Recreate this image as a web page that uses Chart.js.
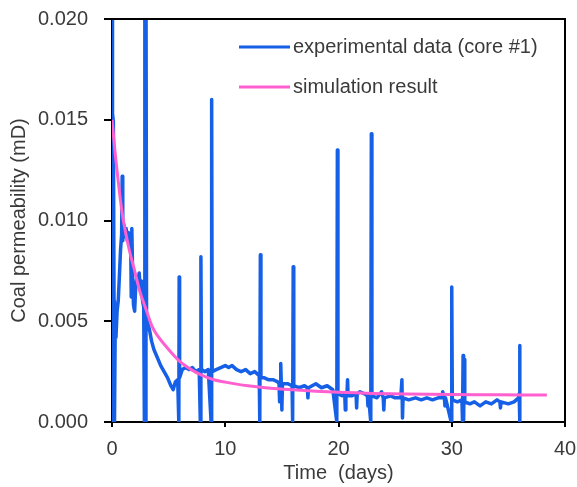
<!DOCTYPE html>
<html>
<head>
<meta charset="utf-8">
<script src="https://cdn.jsdelivr.net/npm/chart.js@4.4.1/dist/chart.umd.min.js"></script>
<style>
    html, body { margin: 0; padding: 0; background: #fff; }
    #wrap { width: 577px; height: 487px; }
</style>
</head>
<body>
<div id="wrap"><canvas id="permChart"></canvas></div>
<script>
// ==================== Data ====================

// experimental data (core #1) - time in days, permeability in mD
// (rows of expTime and expPerm line up one to one)
const expTime = [
    0.00, 0.03, 0.06, 0.12, 0.18, 0.22, 0.28, 0.35, 0.45, 0.55, 0.65, 0.75, 0.85, 0.90, 0.95,
    1.05, 1.15, 1.25, 1.35, 1.45, 1.55, 1.65, 1.70, 1.75, 1.85, 1.90, 2.00, 2.10, 2.20, 2.30,
    2.40, 2.50, 2.60, 2.70, 2.80, 2.86, 2.90, 2.95, 3.00, 3.05, 3.10, 3.30, 3.50, 3.70, 4.00,
    4.30, 4.60, 4.90, 5.20, 5.40, 5.60, 5.80, 5.90, 5.93, 5.97, 6.20, 6.50, 6.80, 7.10, 7.40,
    7.70, 7.80, 7.85, 7.90, 8.20, 8.50, 8.75, 8.80, 8.85, 9.20, 9.60, 10.0, 10.3, 10.6, 11.0,
    11.4, 11.8, 12.2, 12.6, 13.0, 13.05, 13.1, 13.15, 13.4, 13.8, 14.2, 14.6, 14.75, 14.8, 14.85,
    14.9, 14.95, 15.0, 15.05, 15.5, 15.9, 15.95, 16.0, 16.05, 16.5, 17.0, 17.25, 17.3, 17.35, 18.0,
    18.5, 19.0, 19.5, 19.85, 19.9, 19.95, 20.3, 20.55, 20.6, 20.65, 20.75, 20.8, 20.85, 21.2, 21.55,
    21.6, 21.65, 21.9, 22.3, 22.55, 22.6, 22.65, 22.85, 22.9, 22.95, 23.4, 23.8, 23.95, 24.0, 24.05,
    24.6, 25.0, 25.5, 25.6, 25.65, 25.7, 26.2, 26.8, 27.3, 27.8, 28.3, 28.8, 29.15, 29.2, 29.35,
    29.4, 29.45, 29.95, 30.0, 30.05, 30.5, 30.9, 30.95, 31.0, 31.05, 31.1, 31.15, 31.6, 32.0, 32.5,
    33.0, 33.5, 34.0, 34.25, 34.3, 34.35, 35.0, 35.5, 35.9, 35.95, 36.0, 36.02
];
const expPerm = [
    0.0000, 0.0210, 0.0153, 0.0149, 0.0060, 0.0000, 0.0045, 0.0042, 0.0055, 0.0060, 0.0072, 0.0085, 0.0093, 0.0122, 0.0090,
    0.0098, 0.0092, 0.0096, 0.0090, 0.0094, 0.0088, 0.0091, 0.0062, 0.0096, 0.0065, 0.0058, 0.0055, 0.0068, 0.0072, 0.0070,
    0.0074, 0.0066, 0.0070, 0.0060, 0.0057, 0.0000, 0.0230, 0.0000, 0.0230, 0.0052, 0.0050, 0.0046, 0.0040, 0.0036, 0.0032,
    0.0028, 0.0025, 0.0022, 0.0018, 0.0016, 0.0020, 0.0021, 0.0000, 0.0072, 0.0022, 0.0026, 0.0027, 0.0026, 0.0027, 0.0025,
    0.0026, 0.0000, 0.0082, 0.0026, 0.0025, 0.0026, 0.0000, 0.0160, 0.0025, 0.0026, 0.0027, 0.0028, 0.0027, 0.0028, 0.0026,
    0.0025, 0.0026, 0.0024, 0.0025, 0.0023, 0.0000, 0.0083, 0.0022, 0.0022, 0.0021, 0.0021, 0.0020, 0.0019, 0.0010, 0.0019,
    0.0029, 0.0019, 0.0006, 0.0019, 0.0019, 0.0018, 0.0000, 0.0077, 0.0018, 0.0017, 0.0018, 0.0017, 0.0012, 0.0017, 0.0019,
    0.0017, 0.0018, 0.0016, 0.0000, 0.0135, 0.0014, 0.0013, 0.0014, 0.0006, 0.0014, 0.0014, 0.0021, 0.0013, 0.0013, 0.0014,
    0.0007, 0.0014, 0.0015, 0.0014, 0.0013, 0.0008, 0.0013, 0.0000, 0.0143, 0.0013, 0.0012, 0.0015, 0.0012, 0.0006, 0.0012,
    0.0013, 0.0012, 0.0012, 0.0021, 0.0002, 0.0012, 0.0011, 0.0012, 0.0011, 0.0012, 0.0011, 0.0012, 0.0012, 0.0015, 0.0012,
    0.0008, 0.0012, 0.0000, 0.0067, 0.0011, 0.0010, 0.0011, 0.0000, 0.0033, 0.0001, 0.0031, 0.0010, 0.0009, 0.0010, 0.0008,
    0.0010, 0.0009, 0.0011, 0.0010, 0.0007, 0.0010, 0.0009, 0.0010, 0.0012, 0.0014, 0.0038, 0.0000
];

// simulation result
const simTime = [0, 0.25, 0.5, 0.75, 1.0, 1.5, 2.0, 2.5, 3.0, 3.5, 4.0, 5.0, 6.0, 7.0, 8.0, 9.0,
    10, 11, 12, 14, 16, 18, 20, 23, 26, 30, 34, 38.4];
const simPerm = [0.0150, 0.0135, 0.0122, 0.0110, 0.0100, 0.0086, 0.0075, 0.0064, 0.0056, 0.0048,
    0.0043, 0.0036, 0.0030, 0.0026, 0.0023, 0.0021, 0.00198, 0.00188, 0.00180, 0.00168, 0.00160,
    0.00153, 0.00148, 0.00142, 0.00139, 0.00136, 0.00135, 0.00134];

// axis ranges / ticks
const xRange = [0, 40];
const xStep = 10;
const yRange = [0, 0.020];
const yStep = 0.005;

const seriesNames = ['experimental data (core #1)', 'simulation result'];
const seriesColors = ['#1560e6', '#ff5fcf'];

// ==================== Helpers ====================

function toPoints(xs, ys) {
    return xs.map((x, i) => ({ x: x, y: ys[i] }));
}

const TEXT_COLOR = '#3a3a3a';
const FONT_FAMILY = '"Liberation Sans", Arial, sans-serif';
const FONT_SIZE = 20;

// draws the top/right frame lines and the legend inside the plot
const framePlugin = {
    id: 'frameAndLegend',
    afterDraw(chart) {
        const ctx = chart.ctx;
        const area = chart.chartArea;
        ctx.save();
        ctx.strokeStyle = '#000';
        ctx.lineWidth = 2;
        ctx.beginPath();
        ctx.moveTo(area.left, area.top);
        ctx.lineTo(area.right, area.top);
        ctx.lineTo(area.right, area.bottom);
        ctx.stroke();

        // legend
        ctx.font = FONT_SIZE + 'px ' + FONT_FAMILY;
        ctx.textBaseline = 'middle';
        ctx.textAlign = 'left';
        const rows = [47, 87];
        seriesNames.forEach((name, i) => {
            ctx.strokeStyle = seriesColors[i];
            ctx.lineWidth = 3;
            ctx.beginPath();
            ctx.moveTo(239, rows[i]);
            ctx.lineTo(290, rows[i]);
            ctx.stroke();
            ctx.fillStyle = TEXT_COLOR;
            ctx.fillText(name, 293, rows[i]);
        });
        ctx.restore();
    }
};

// ==================== Chart ====================

document.addEventListener('DOMContentLoaded', function () {
    const canvas = document.getElementById('permChart');

    new Chart(canvas, {
        type: 'scatter',
        data: {
            datasets: [
                {
                    label: seriesNames[0],
                    data: toPoints(expTime, expPerm),
                    showLine: true,
                    borderColor: seriesColors[0],
                    borderWidth: 3.5,
                    borderJoinStyle: 'round',
                    pointRadius: 0,
                    order: 2
                },
                {
                    label: seriesNames[1],
                    data: toPoints(simTime, simPerm),
                    showLine: true,
                    borderColor: seriesColors[1],
                    borderWidth: 3,
                    tension: 0.3,
                    pointRadius: 0,
                    order: 1
                }
            ]
        },
        options: {
            responsive: true,
            maintainAspectRatio: false,
            animation: false,
            layout: { padding: { top: 19, right: 12, left: 0, bottom: 0 } },
            plugins: {
                legend: { display: false },
                tooltip: { enabled: false }
            },
            scales: {
                x: {
                    type: 'linear',
                    min: xRange[0],
                    max: xRange[1],
                    afterFit: scale => {
                        scale.height = 65;
                        scale.paddingLeft = 0;
                        scale.paddingRight = 0;
                    },
                    border: { color: '#000', width: 2 },
                    grid: { drawOnChartArea: false, color: '#000', lineWidth: 2, tickLength: 5 },
                    ticks: {
                        stepSize: xStep,
                        padding: 10,
                        color: TEXT_COLOR,
                        font: { family: FONT_FAMILY, size: FONT_SIZE }
                    },
                    title: {
                        display: true,
                        text: 'Time  (days)',
                        color: TEXT_COLOR,
                        padding: { top: 0, bottom: 2 },
                        font: { family: FONT_FAMILY, size: FONT_SIZE }
                    }
                },
                y: {
                    min: yRange[0],
                    max: yRange[1],
                    afterFit: scale => {
                        scale.width = 112;
                        scale.paddingTop = 0;
                        scale.paddingBottom = 0;
                    },
                    border: { color: '#000', width: 2 },
                    grid: { drawOnChartArea: false, color: '#000', lineWidth: 2, tickLength: 8 },
                    ticks: {
                        stepSize: yStep,
                        padding: 16,
                        color: TEXT_COLOR,
                        font: { family: FONT_FAMILY, size: FONT_SIZE },
                        callback: v => v.toFixed(3)
                    },
                    title: {
                        display: true,
                        text: 'Coal permeability (mD)',
                        color: TEXT_COLOR,
                        padding: { top: 7, bottom: 0 },
                        font: { family: FONT_FAMILY, size: FONT_SIZE }
                    }
                }
            }
        },
        plugins: [framePlugin]
    });
});
</script>
</body>
</html>
